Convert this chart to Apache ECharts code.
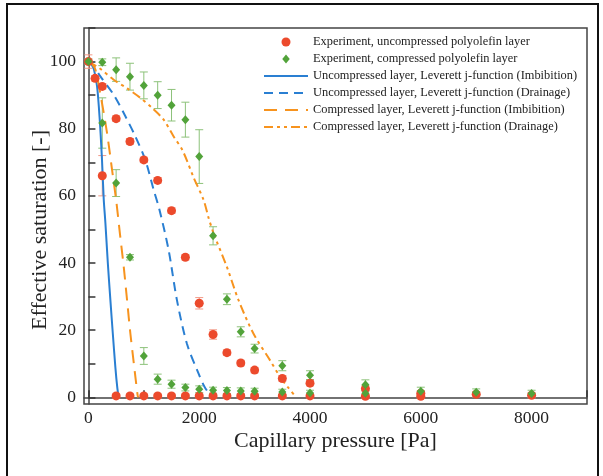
<!DOCTYPE html>
<html>
<head>
<meta charset="utf-8">
<script src="https://cdn.jsdelivr.net/npm/echarts@6/dist/echarts.min.js"></script>
<style>html,body{margin:0;padding:0;background:#fff}#c{width:603px;height:476px}</style>
</head>
<body>
<div id="c"></div>
<script>
// ---- data ----
const xTicks = [0,1000,2000,3000,4000,5000,6000,7000,8000,9000];
const xLabels = [0,2000,4000,6000,8000];
const yTicks = [0,10,20,30,40,50,60,70,80,90,100,110];
const yLabels = [0,20,40,60,80,100];

// Experiment, uncompressed: pressure, saturation, error half-width
const expUncP = [0,120,250,250,500,750,1000,1250,1500,1750,2000,2250,2500,2750,3000,3500,4000,5000,6000,7000,8000,
                 500,750,1000,1250,1500,1750,2000,2250,2500,2750,3000,3500,4000,5000,6000];
const expUncS = [100,95,66,92.6,83,76.2,70.7,64.6,55.6,41.7,28,18.7,13.3,10.2,8.1,5.6,4.2,2.6,1.2,0.9,0.6,
                 0.4,0.4,0.4,0.4,0.4,0.4,0.4,0.4,0.4,0.4,0.4,0.4,0.4,0.3,0.3];
const expUncE = [2,0.8,6,0.8,0.8,0.8,0.8,0.8,0.8,0.8,1.7,1.4,0.8,0.8,0.8,0.8,0.8,0.8,0.8,0.8,0.8,
                 0.6,0.6,0.6,0.6,0.6,0.6,0.6,0.6,0.6,0.6,0.6,0.6,0.6,0.6,0.6];

// Experiment, compressed
const expComP = [0,250,500,750,1000,1250,1500,1750,2000,2250,2500,2750,3000,3500,4000,5000,6000,7000,8000,
                 250,500,750,1000,1250,1500,1750,2000,2250,2500,2750,3000,3500,4000,5000];
const expComS = [100,99.8,97.6,95.5,92.9,90,87,82.7,71.7,48.1,29.2,19.5,14.5,9.4,6.6,3.7,1.8,1.5,1.1,
                 81.7,63.8,41.7,12.3,5.4,3.9,2.9,2.4,2.1,2.0,1.9,1.8,1.6,1.3,1.2];
const expComE = [0.8,1,3.5,4,4,4,4.7,5.2,8,2.7,1.6,1.5,1.3,1.5,1.3,1.5,1.2,1,1,
                 7.5,4,0.8,2.5,1.5,1.2,1,1,0.9,0.9,0.9,0.9,0.8,0.8,0.8];

// Leverett j-function curves: [pressure, saturation]
const uncImb = [[0,100],[60,99],[100,97.6],[156,92.6],[204,82.7],[245,70.7],[276,59],[306,52],[350,40],[396,29],[440,19],[486,9],[520,3],[545,0]];
const uncDra = [[0,100],[100,98.5],[216,95.6],[456,90.1],[667,83.7],[847,77.7],[1027,70.7],[1177,61.8],[1280,56],[1447,43.9],[1597,29],[1777,16],[1987,7.1],[2100,3],[2228,0]];
const comImb = [[0,100],[60,99.3],[126,97.6],[228,89.2],[336,78.7],[426,67.8],[500,58.8],[570,48.5],[637,38.9],[700,28.5],[757,19],[820,10],[888,0.6],[900,0]];
const comDra = [[0,100],[200,98],[456,94.6],[700,92],[937,89.2],[1150,86.2],[1357,82.7],[1538,77.7],[1700,73.5],[1898,65.5],[2078,58.8],[2168,53.5],[2258,48.9],[2498,38.9],[2708,29],[2978,19],[3279,11],[3459,6.1],[3600,3],[3750,0]];

const names = [
  'Experiment, uncompressed polyolefin layer',
  'Experiment, compressed polyolefin layer',
  'Uncompressed layer, Leverett j-function (Imbibition)',
  'Uncompressed layer, Leverett j-function (Drainage)',
  'Compressed layer, Leverett j-function (Imbibition)',
  'Compressed layer, Leverett j-function (Drainage)'
];

// ---- build ----
const RED = '#ec4a2c', REDERR = '#f29a88', GREEN = '#52a33a', GREENERR = '#8dc27a';
const BLUE = '#2a7fd2', ORANGE = '#f7931e';
const FONT = 'Liberation Serif';

function errData(P,S,E){ return P.map((p,i)=>[p, S[i]-E[i], S[i]+E[i]]); }
function ptData(P,S){ return P.map((p,i)=>[p, S[i]]); }
function errSeries(data,color){
  return {
    type:'custom', data:data, z:2, silent:true,
    encode:{x:0,y:[1,2]},
    renderItem:function(params, api){
      const lo = api.coord([api.value(0), api.value(1)]);
      const hi = api.coord([api.value(0), api.value(2)]);
      const w = 4;
      const st = {stroke:color, lineWidth:1};
      return {type:'group', children:[
        {type:'line', shape:{x1:lo[0],y1:lo[1],x2:hi[0],y2:hi[1]}, style:st},
        {type:'line', shape:{x1:lo[0]-w,y1:lo[1],x2:lo[0]+w,y2:lo[1]}, style:st},
        {type:'line', shape:{x1:hi[0]-w,y1:hi[1],x2:hi[0]+w,y2:hi[1]}, style:st}
      ]};
    }
  };
}
function lineSeries(name,data,color,type){
  return {name:name, type:'line', data:data, showSymbol:false, symbol:'none', smooth:0.3, z:3,
    lineStyle:{color:color, width:2, type:type}, itemStyle:{color:color}};
}

const chart = echarts.init(document.getElementById('c'), null, {renderer:'canvas'});
chart.setOption({
  animation:false,
  backgroundColor:'#fff',
  graphic:[{type:'rect', shape:{x:7,y:4,width:591,height:490}, style:{fill:'none', stroke:'#111', lineWidth:2}, z:100}],
  grid:{left:84, right:16, top:28, bottom:72, show:true, borderColor:'#444', borderWidth:1.5},
  legend:{
    orient:'vertical', left:258, top:31, itemWidth:44, itemHeight:9, itemGap:5,
    textStyle:{fontFamily:FONT, fontSize:12.4, color:'#222'},
    data:[
      {name:names[0], icon:'circle'},
      {name:names[1], icon:'path://M5,0 L10,6 L5,12 L0,6 Z'},
      {name:names[2], itemStyle:{opacity:0}},
      {name:names[3], itemStyle:{opacity:0}},
      {name:names[4], itemStyle:{opacity:0}},
      {name:names[5], itemStyle:{opacity:0}}
    ]
  },
  xAxis:{
    type:'value', min:-80, max:9000,
    name:'Capillary pressure [Pa]', nameLocation:'middle', nameGap:26, nameMoveOverlap:false,
    nameTextStyle:{fontFamily:FONT, fontSize:22, color:'#222'},
    axisLine:{lineStyle:{color:'#444', width:1.5}},
    axisTick:{inside:true, length:7, customValues:xTicks, lineStyle:{color:'#333', width:1.5}},
    axisLabel:{customValues:xLabels, formatter:v=>String(v), fontFamily:FONT, fontSize:17.5, color:'#222', margin:5},
    splitLine:{show:false}
  },
  yAxis:{
    type:'value', min:-2, max:110,
    name:'Effective saturation [-]', nameLocation:'middle', nameGap:33, nameRotate:90, nameMoveOverlap:false,
    nameTextStyle:{fontFamily:FONT, fontSize:22, color:'#222', padding:[0,28,0,0]},
    axisLine:{lineStyle:{color:'#444', width:1.5}},
    axisTick:{inside:true, length:7, customValues:yTicks, lineStyle:{color:'#333', width:1.5}},
    axisLabel:{customValues:yLabels, formatter:v=>String(v), fontFamily:FONT, fontSize:17.5, color:'#222', margin:8},
    splitLine:{show:false}
  },
  series:[
    errSeries(errData(expUncP,expUncS,expUncE), REDERR),
    errSeries(errData(expComP,expComS,expComE), GREENERR),
    {name:names[0], type:'scatter', data:ptData(expUncP,expUncS), symbol:'circle', symbolSize:9, z:4,
      itemStyle:{color:RED, opacity:1}},
    {name:names[1], type:'scatter', data:ptData(expComP,expComS), symbol:'diamond', symbolSize:[8,9], z:5,
      itemStyle:{color:GREEN, opacity:1}},
    lineSeries(names[2], uncImb, BLUE, 'solid'),
    lineSeries(names[3], uncDra, BLUE, [9,6]),
    lineSeries(names[4], comImb, ORANGE, [13,8]),
    lineSeries(names[5], comDra, ORANGE, [9,4,3,4,3,4])
  ]
});
</script>
</body>
</html>
